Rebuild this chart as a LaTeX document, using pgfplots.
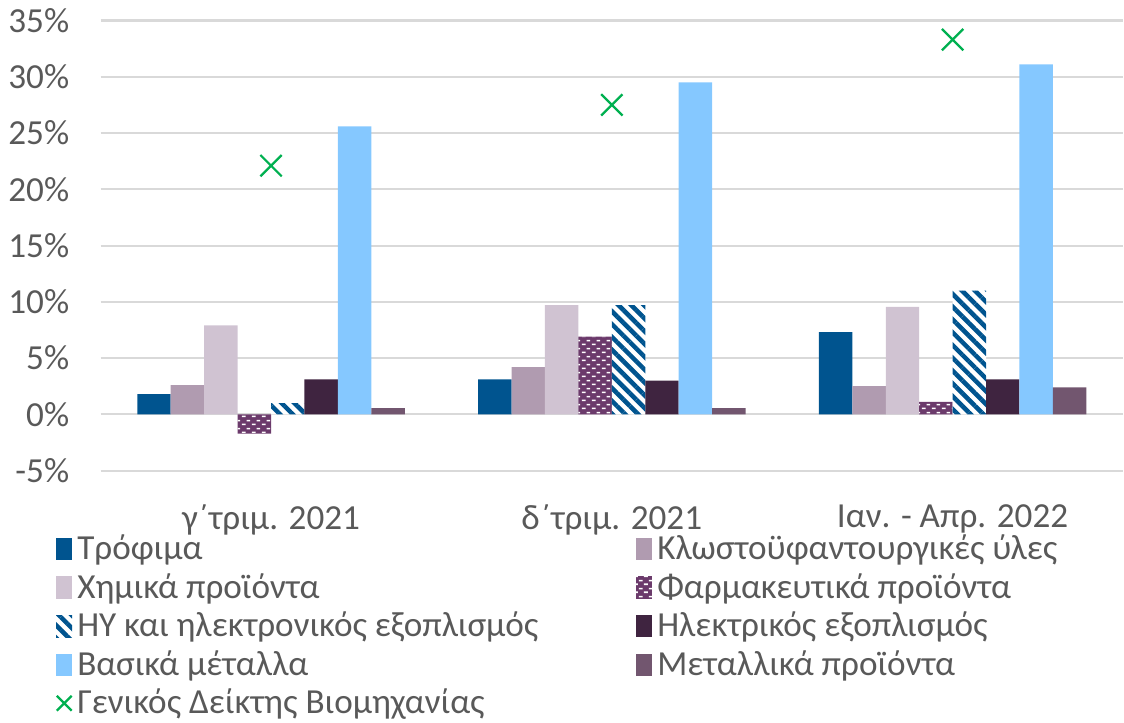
\documentclass[border=0pt]{standalone}
\usepackage{pgfplots}
\pgfplotsset{compat=1.18}
\usepackage{fontspec}
\setmainfont{Carlito}
\usetikzlibrary{patterns,patterns.meta}

\definecolor{trofima}{HTML}{00548F}
\definecolor{klost}{HTML}{B09BB0}
\definecolor{ximika}{HTML}{D0C3D2}
\definecolor{farm}{HTML}{6B3A6B}
\definecolor{hy}{HTML}{00548F}
\definecolor{ilek}{HTML}{3F2440}
\definecolor{vasika}{HTML}{85C8FF}
\definecolor{metal}{HTML}{72566F}
\definecolor{geniko}{HTML}{00B050}
\definecolor{txt}{HTML}{595959}
\definecolor{grd}{HTML}{D9D9D9}

% white dashes in brick rows, for the pharma bars
\pgfdeclarepatternformonly{dashbricks}{\pgfpointorigin}{\pgfpoint{4pt}{3.2pt}}{\pgfpoint{4pt}{3.2pt}}{%
  \pgfpathrectangle{\pgfpoint{0.4pt}{0.4pt}}{\pgfpoint{1.6pt}{0.7pt}}%
  \pgfpathrectangle{\pgfpoint{2.4pt}{2pt}}{\pgfpoint{1.6pt}{0.7pt}}%
  \pgfusepath{fill}}

\pgfplotstableread{
x  trof klost xim  farm  hy   ilek vas  met  gen
0  1.8  2.6   7.9  -1.7  1.0  3.1  25.6 0.55 22.1
1  3.1  4.2   9.7   6.9  9.7  3.0  29.5 0.55 27.5
2  7.3  2.5   9.55  1.1 11.0  3.1  31.1 2.4  33.3
}\data

\pgfplotsset{
  mybar/.style={ybar, bar width=0.0981, bar shift={(#1-3.5)*0.0981}, draw=none,
    area legend,
    legend image code/.code={\fill[##1] (0pt,-4.4pt) rectangle (6.4pt,4.4pt);}},
  mymark/.style={only marks, mark=x, mark size=6pt, geniko, line width=0.9pt,
    legend image code/.code={\draw[mark repeat=2, mark phase=2, ##1, mark size=4.2pt] plot coordinates {(0pt,0pt) (3.2pt,0pt) (6.4pt,0pt)};}},
}

\begin{document}
\begin{tikzpicture}[font=\fontsize{14}{16}\selectfont, text=txt]
\begin{axis}[
  scale only axis,
  width=407pt, height=179.2pt,
  xmin=-0.5, xmax=2.5,
  ymin=-5, ymax=35,
  ytick={-5,0,...,35},
  yticklabel={\pgfmathprintnumber{\tick}\%},
  /pgf/number format/assume math mode=true,
  xtick={0,1,2},
  xticklabels={γ΄τριμ. 2021, δ΄τριμ. 2021, Ιαν. - Απρ. 2022},
  axis line style={draw=none},
  major tick length=0pt,
  ymajorgrids,
  grid style={grd, line width=0.8pt},
  tick label style={text=txt},
  yticklabel style={xshift=-9pt},
  xticklabel style={yshift=-10pt},
  legend columns=2,
  legend cell align=left,
  legend style={draw=none, fill=none, anchor=north west,
    at={(axis description cs:-0.044,-0.13)}, inner sep=0pt,
    row sep=0pt,
    /tikz/every even column/.append style={column sep=37pt}},
]
\addplot[mybar=0, fill=trofima] table[x=x, y=trof] {\data};
\addlegendentry{Τρόφιμα}
\addplot[mybar=1, fill=klost] table[x=x, y=klost] {\data};
\addlegendentry{Κλωστοϋφαντουργικές ύλες}
\addplot[mybar=2, fill=ximika] table[x=x, y=xim] {\data};
\addlegendentry{Χημικά προϊόντα}
\addplot[mybar=3, fill=farm, postaction={pattern=dashbricks, pattern color=white}] table[x=x, y=farm] {\data};
\addlegendentry{Φαρμακευτικά προϊόντα}
\addplot[mybar=4, fill=white, postaction={pattern={Lines[angle=-45, distance=3.6pt, line width=1.8pt]}, pattern color=hy}] table[x=x, y=hy] {\data};
\addlegendentry{ΗΥ και ηλεκτρονικός εξοπλισμός}
\addplot[mybar=5, fill=ilek] table[x=x, y=ilek] {\data};
\addlegendentry{Ηλεκτρικός εξοπλισμός}
\addplot[mybar=6, fill=vasika] table[x=x, y=vas] {\data};
\addlegendentry{Βασικά μέταλλα}
\addplot[mybar=7, fill=metal] table[x=x, y=met] {\data};
\addlegendentry{Μεταλλικά προϊόντα}
\addplot[mymark] table[x=x, y=gen] {\data};
\addlegendentry{Γενικός Δείκτης Βιομηχανίας}
\end{axis}
\end{tikzpicture}
\end{document}
